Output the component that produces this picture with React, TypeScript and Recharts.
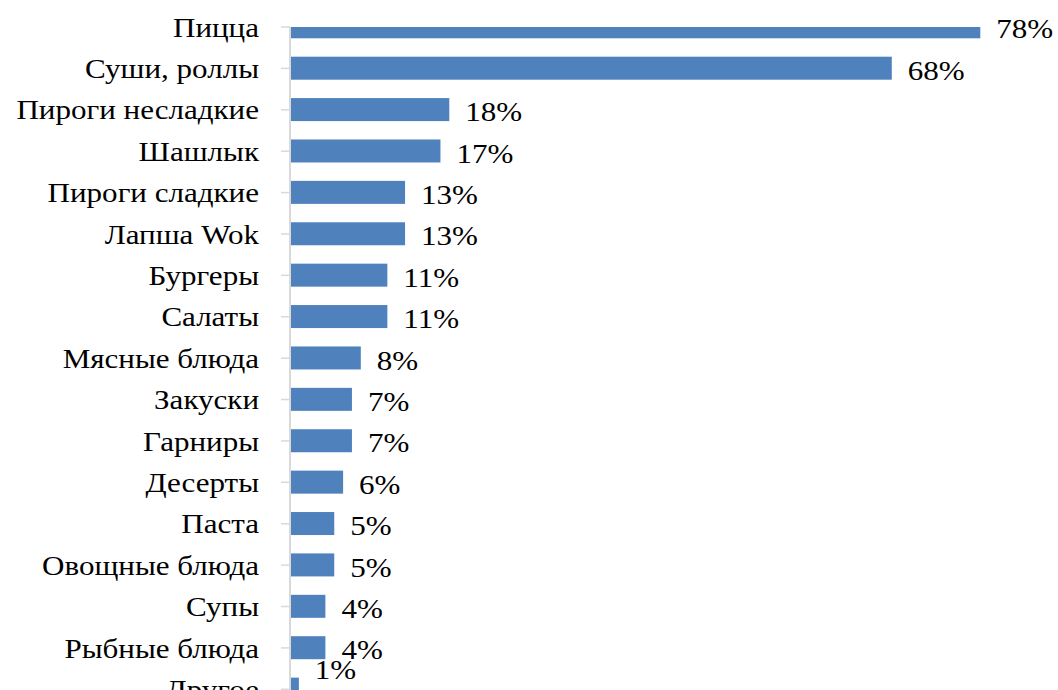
import React from "react";
import { BarChart, Bar, XAxis, YAxis, LabelList } from "recharts";

const categories = [
  "Пицца",
  "Суши, роллы",
  "Пироги несладкие",
  "Шашлык",
  "Пироги сладкие",
  "Лапша Wok",
  "Бургеры",
  "Салаты",
  "Мясные блюда",
  "Закуски",
  "Гарниры",
  "Десерты",
  "Паста",
  "Овощные блюда",
  "Супы",
  "Рыбные блюда",
  "Другое",
];

const shares = [78, 68, 18, 17, 13, 13, 11, 11, 8, 7, 7, 6, 5, 5, 4, 4, 1];

const data = categories.map((name, i) => ({ name, value: shares[i] }));

const FONT = "Liberation Serif, Times New Roman, serif";
const PLOT_TOP = 27;
const STRETCH = 1.15; // the original text is a bit wide

// bars above the plot top get cut off, like the first one in the original
const ClippedBar = (props: any) => {
  const { x, y, width, height, fill } = props;
  const top = Math.max(y, PLOT_TOP);
  const h = y + height - top;
  if (h <= 0 || width <= 0) return null;
  return <rect x={x} y={top} width={width} height={h} fill={fill} />;
};

const CategoryTick = (props: any) => {
  const { x, y, payload } = props;
  return (
    <g transform={`translate(${x},${y}) scale(${STRETCH},1)`}>
      <text
        x={0}
        y={0}
        dy="0.355em"
        textAnchor="end"
        style={{ fontFamily: FONT, fontSize: 27, fill: "#000" }}
      >
        {payload.value}
      </text>
    </g>
  );
};

const ValueLabel = (props: any) => {
  const { x, y, width, height, value, index } = props;
  // the last label sits a bit higher in the original
  const shift = index === data.length - 1 ? -20 : 2;
  return (
    <g
      transform={`translate(${x + width + 16},${y + height / 2 + shift}) scale(${STRETCH},1)`}
    >
      <text
        x={0}
        y={0}
        dy="0.355em"
        textAnchor="start"
        style={{ fontFamily: FONT, fontSize: 27, fill: "#000" }}
      >
        {`${value}%`}
      </text>
    </g>
  );
};

export default function App() {
  return (
    <div
      style={{
        position: "absolute",
        left: 0,
        top: 0,
        width: 1058,
        height: 690,
        overflow: "hidden",
        background: "#fff",
      }}
    >
      <BarChart
        width={1058}
        height={715}
        data={data}
        layout="vertical"
        margin={{ top: PLOT_TOP, right: 60, bottom: 5, left: 0 }}
      >
        <XAxis type="number" domain={[0, 80]} hide />
        <YAxis
          type="category"
          dataKey="name"
          width={290}
          interval={0}
          padding={{ top: -20.7, bottom: 0 }}
          axisLine={{ stroke: "#D9D9D9", strokeWidth: 2 }}
          tickLine={{ stroke: "#D9D9D9", strokeWidth: 1.5 }}
          tickSize={9}
          tickMargin={22}
          tick={<CategoryTick />}
        />
        <Bar
          dataKey="value"
          fill="#4F81BD"
          barSize={23}
          shape={<ClippedBar />}
          isAnimationActive={false}
        >
          <LabelList dataKey="value" content={<ValueLabel />} />
        </Bar>
      </BarChart>
    </div>
  );
}
